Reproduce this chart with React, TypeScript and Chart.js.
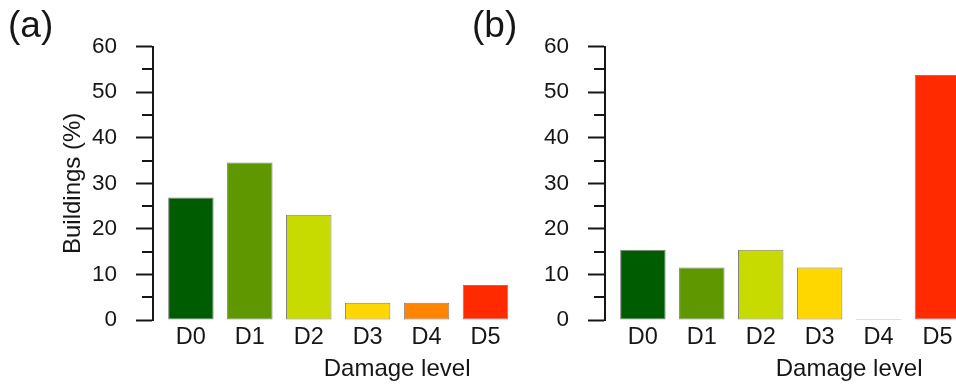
import React, { useEffect, useRef } from "react";
import { Chart, registerables } from "chart.js";

Chart.register(...registerables);

// ---- data ----
const CATEGORIES = ["D0", "D1", "D2", "D3", "D4", "D5"];
const PANEL_A_VALUES = [26.9, 34.6, 23.1, 3.8, 3.8, 7.7];
const PANEL_B_VALUES = [15.4, 11.5, 15.4, 11.5, 0, 53.8];
const BAR_COLORS = ["#005c00", "#5f9700", "#c8db00", "#ffd700", "#ff8400", "#ff2a00"];
const Y_MIN = 0;
const Y_MAX = 60;
const Y_STEP = 10;
const Y_TITLE = "Buildings (%)";
const X_TITLE = "Damage level";
const PANEL_A_TAG = "(a)";
const PANEL_B_TAG = "(b)";

const FONT = '"Liberation Sans", Arial, Helvetica, sans-serif';
const INK = "#161616";

const annotPlugin = {
  id: "annot",
  afterDraw(chart: any, _args: any, opts: any) {
    const { ctx } = chart;
    const x = chart.scales.x;
    const y = chart.scales.y;
    ctx.save();
    // minor ticks halfway between major ticks
    const axisX = y.right;
    ctx.strokeStyle = INK;
    ctx.lineWidth = 2;
    const t = y.ticks;
    for (let i = 0; i + 1 < t.length; i++) {
      const mid = (t[i].value + t[i + 1].value) / 2;
      const py = Math.round(y.getPixelForValue(mid));
      ctx.beginPath();
      ctx.moveTo(axisX - 11, py);
      ctx.lineTo(axisX - 1, py);
      ctx.stroke();
    }
    // x title
    ctx.fillStyle = INK;
    ctx.font = `24px ${FONT}`;
    ctx.textAlign = "center";
    ctx.textBaseline = "alphabetic";
    ctx.fillText(opts.xTitle, x.getPixelForValue(opts.xTitleAt), 376);
    // panel tag
    ctx.font = `37px ${FONT}`;
    ctx.textAlign = "left";
    ctx.fillText(opts.tag, opts.tagX, 37);
    ctx.restore();
  },
};

function Panel({ values, tag, tagX, left }: { values: number[]; tag: string; tagX: number; left: number }) {
  const ref = useRef<HTMLCanvasElement | null>(null);
  useEffect(() => {
    if (!ref.current) return;
    const chart = new Chart(ref.current, {
      type: "bar",
      data: {
        datasets: [
          {
            data: values.map((v, i) => ({ x: i, y: v })),
            backgroundColor: BAR_COLORS,
            borderColor: "rgba(85,85,85,0.75)",
            borderWidth: 1,
            borderSkipped: false,
            minBarLength: 1,
            barPercentage: 1,
            categoryPercentage: 0.772,
          } as any,
        ],
      },
      plugins: [annotPlugin as any],
      options: {
        animation: false,
        responsive: false,
        devicePixelRatio: 1,
        layout: { padding: { top: 46.7, left: 0, right: 0, bottom: 0 } },
        plugins: {
          legend: { display: false },
          tooltip: { enabled: false },
          annot: { xTitle: X_TITLE, xTitleAt: 3.5, tag, tagX },
        } as any,
        scales: {
          x: {
            type: "linear",
            min: -0.643,
            max: 5.45,
            offset: false,
            afterBuildTicks: (scale: any) => {
              scale.ticks = CATEGORIES.map((_, i) => ({ value: i }));
            },
            afterFit: (scale: any) => {
              scale.height = 65;
            },
            ticks: {
              autoSkip: false,
              maxRotation: 0,
              padding: 3,
              color: INK,
              font: { family: FONT, size: 23.5 },
              callback: (v: any) => CATEGORIES[Number(v)] ?? "",
            },
            grid: { display: false, drawTicks: false },
            border: { display: false },
          },
          y: {
            type: "linear",
            min: Y_MIN,
            max: Y_MAX,
            afterFit: (scale: any) => {
              scale.width = 153;
            },
            ticks: {
              stepSize: Y_STEP,
              padding: 19,
              color: INK,
              font: { family: FONT, size: 22.5 },
            },
            grid: {
              drawOnChartArea: false,
              drawTicks: true,
              tickLength: 17,
              tickWidth: 2,
              tickColor: INK,
            },
            border: { display: true, width: 2, color: INK },
            title: {
              display: tag === PANEL_A_TAG,
              text: Y_TITLE,
              color: INK,
              font: { family: FONT, size: 24 },
              padding: { top: 59, bottom: 0 },
            },
          },
        },
      } as any,
    });
    return () => chart.destroy();
  }, [values, tag, tagX]);
  return (
    <canvas
      ref={ref}
      width={512}
      height={385}
      style={{ position: "absolute", left, top: 0, width: 512, height: 385 }}
    />
  );
}

export default function App() {
  return (
    <div
      style={{
        position: "absolute",
        left: 0,
        top: 0,
        width: 956,
        height: 385,
        overflow: "hidden",
        background: "#ffffff",
      }}
    >
      <Panel values={PANEL_A_VALUES} tag={PANEL_A_TAG} tagX={8} left={0} />
      <Panel values={PANEL_B_VALUES} tag={PANEL_B_TAG} tagX={20} left={452} />
    </div>
  );
}
